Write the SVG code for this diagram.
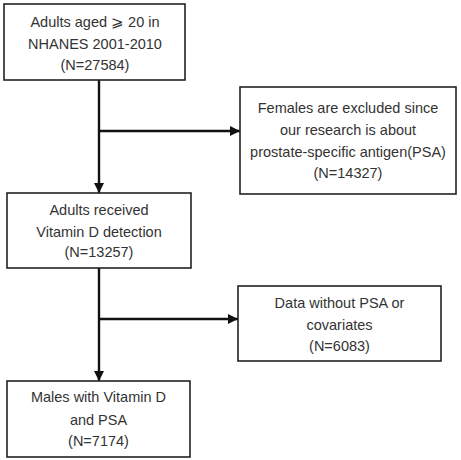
<svg xmlns="http://www.w3.org/2000/svg" width="461" height="460" viewBox="0 0 461 460">
<style>
.box{fill:#fff;stroke:#222;stroke-width:1.6}
.t{font-family:"Liberation Sans",Arial,sans-serif;font-size:14.5px;fill:#333;text-anchor:middle}
.c{stroke:#111;stroke-width:2.4;fill:none}
</style>
<defs>
<marker id="ah" viewBox="0 0 10 10" refX="10" refY="5" markerWidth="4.2" markerHeight="4.2" markerUnits="strokeWidth" orient="auto">
<path d="M0,0 L10,5 L0,10 Z" fill="#111"/>
</marker>
</defs>
<rect width="461" height="460" fill="#fff"/>
<g id="connectors">
<line class="c" x1="99" y1="80" x2="99" y2="193" marker-end="url(#ah)"/>
<line class="c" x1="99" y1="131" x2="240" y2="131" marker-end="url(#ah)"/>
<line class="c" x1="99" y1="268" x2="99" y2="381" marker-end="url(#ah)"/>
<line class="c" x1="99" y1="319" x2="238" y2="319" marker-end="url(#ah)"/>
</g>
<g id="n1">
<rect class="box" x="4" y="4" width="181" height="76"/>
<text class="t" x="95" y="27">Adults aged ⩾ 20 in</text>
<text class="t" x="95" y="48.5">NHANES 2001-2010</text>
<text class="t" x="95" y="70">(N=27584)</text>
</g>
<g id="n2">
<rect class="box" x="240" y="87" width="216" height="107"/>
<text class="t" x="348" y="113">Females are excluded since</text>
<text class="t" x="348" y="135">our research is about</text>
<text class="t" x="348" y="157">prostate-specific antigen(PSA)</text>
<text class="t" x="348" y="178">(N=14327)</text>
</g>
<g id="n3">
<rect class="box" x="7" y="193" width="184" height="75"/>
<text class="t" x="99" y="215">Adults received</text>
<text class="t" x="99" y="236.5">Vitamin D detection</text>
<text class="t" x="99" y="257">(N=13257)</text>
</g>
<g id="n4">
<rect class="box" x="238" y="286" width="203" height="75"/>
<text class="t" x="339.5" y="308">Data without PSA or</text>
<text class="t" x="339.5" y="329.5">covariates</text>
<text class="t" x="339.5" y="350.5">(N=6083)</text>
</g>
<g id="n5">
<rect class="box" x="7" y="381" width="183" height="76"/>
<text class="t" x="98.5" y="402">Males with Vitamin D</text>
<text class="t" x="98.5" y="424.5">and PSA</text>
<text class="t" x="98.5" y="446">(N=7174)</text>
</g>
</svg>
